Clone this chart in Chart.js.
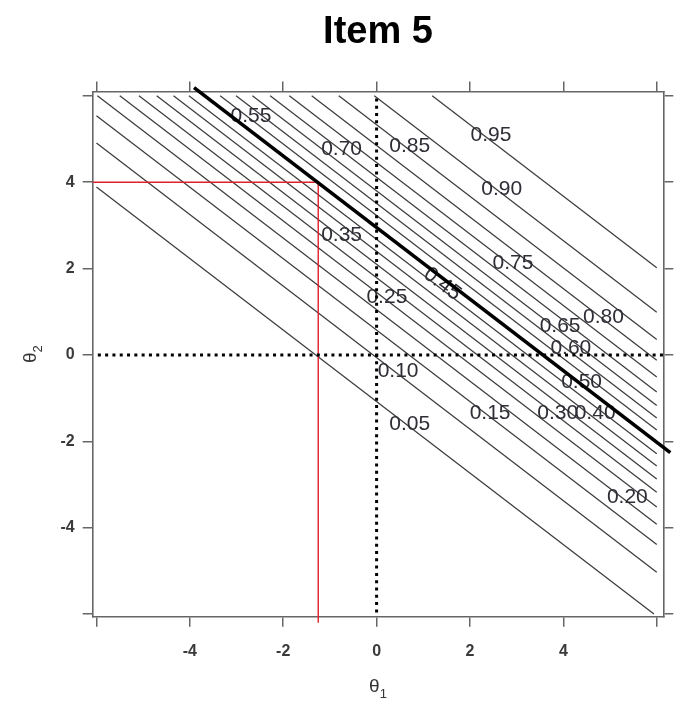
<!DOCTYPE html>
<html>
<head>
<meta charset="utf-8">
<script src="https://cdn.jsdelivr.net/npm/chart.js@4.4.1/dist/chart.umd.min.js"></script>
<style>
html,body{margin:0;padding:0;background:#ffffff;}
canvas{display:block;}
</style>
</head>
<body>
<canvas id="c" width="678" height="702"></canvas>
<script>
// ---- data ----
const levelLabels = ['0.05','0.10','0.15','0.20','0.25','0.30','0.35','0.40','0.45','0.50',
                     '0.55','0.60','0.65','0.70','0.75','0.80','0.85','0.90','0.95'];
// contour line end points (theta1, theta2)
const lineStartX = [-6, -6, -6, -5.98, -5.50, -5.09, -4.71, -4.35, -4.02, -3.68,
                    -3.35, -3.01, -2.66, -2.28, -1.87, -1.39, -0.81, -0.05, 1.19];
const lineStartY = [3.89, 4.91, 5.54, 6, 6, 6, 6, 6, 6, 6,
                    6, 6, 6, 6, 6, 6, 6, 6, 6];
const lineEndX   = [5.94, 6, 6, 6, 6, 6, 6, 6, 6, 6,
                    6, 6, 6, 6, 6, 6, 6, 6, 6];
const lineEndY   = [-6, -5.03, -4.39, -3.92, -3.52, -3.18, -2.87, -2.57, -2.29, -2.02,
                    -1.74, -1.46, -1.17, -0.86, -0.51, -0.12, 0.36, 0.99, 2.02];
// contour label positions (theta1, theta2)
const labelX = [0.71, 0.46, 2.43, 5.37, 0.22, 3.88, -0.75, 4.68, 1.42, 4.39,
                -2.69, 4.16, 3.93, -0.75, 2.92, 4.86, 0.71, 2.68, 2.45];
const labelY = [-1.59, -0.36, -1.32, -3.26, 1.37, -1.32, 2.79, -1.32, 1.66, -0.60,
                5.54, 0.18, 0.70, 4.78, 2.15, 0.89, 4.85, 3.85, 5.10];
const labelAngle = [0,0,0,0,0,0,0,0,37,0, 0,0,0,0,0,0,0,0,0];
// thick p = 0.5 line
const boundaryX = [-3.91, 6.29];
const boundaryY = [6.19, -2.26];
// red reference point
const refTheta1 = -1.25;
const refTheta2 = 4;
// axis ticks
const tickValues = [-6, -4, -2, 0, 2, 4, 6];
const shownTickLabels = ['', '-4', '-2', '0', '2', '4', ''];

const X_MIN = -6.08, X_MAX = 6.14, Y_MIN = -6.06, Y_MAX = 6.10;
const FONT = "'Liberation Sans', Arial, 'Noto Sans', 'DejaVu Sans', sans-serif";

const datasets = [];
datasets.push({
  label: 'p = 0.5', data: [{x: boundaryX[0], y: boundaryY[0]}, {x: boundaryX[1], y: boundaryY[1]}],
  showLine: true, borderColor: '#000000', borderWidth: 3.6, pointRadius: 0, clip: false
});
datasets.push({
  label: 'theta2 = 0', data: [{x: -5.97, y: 0}, {x: 6.22, y: 0}],
  showLine: true, borderColor: '#000000', borderWidth: 3, borderDash: [3, 4.3], pointRadius: 0, clip: false
});
datasets.push({
  label: 'theta1 = 0', data: [{x: 0, y: -5.96}, {x: 0, y: 6.03}],
  showLine: true, borderColor: '#000000', borderWidth: 3, borderDash: [3, 4.3], pointRadius: 0, clip: false
});
datasets.push({
  label: 'ref h', data: [{x: X_MIN, y: refTheta2}, {x: refTheta1, y: refTheta2}],
  showLine: true, borderColor: '#e0202a', borderWidth: 1.4, pointRadius: 0
});
datasets.push({
  label: 'ref v', data: [{x: refTheta1, y: refTheta2}, {x: refTheta1, y: -6.2}],
  showLine: true, borderColor: '#e0202a', borderWidth: 1.4, pointRadius: 0, clip: false
});
const firstContourIndex = datasets.length;
levelLabels.forEach((lab, i) => {
  datasets.push({
    label: lab,
    data: [{x: lineStartX[i], y: lineStartY[i]}, {x: lineEndX[i], y: lineEndY[i]}],
    showLine: true, borderColor: '#3c3c3c', borderWidth: 1.25, pointRadius: 0
  });
});

const labelPlugin = {
  id: 'contourLabels',
  afterDatasetDraw(chart, args) {
    if (args.index !== firstContourIndex) return;
    const ctx = chart.ctx;
    const xs = chart.scales.x, ys = chart.scales.y;
    ctx.save();
    ctx.font = '21px ' + FONT;
    ctx.fillStyle = '#2e2e36';
    ctx.textAlign = 'center';
    ctx.textBaseline = 'middle';
    levelLabels.forEach((lab, i) => {
      const px = xs.getPixelForValue(labelX[i]);
      const py = ys.getPixelForValue(labelY[i]);
      ctx.save();
      ctx.translate(px, py);
      ctx.rotate(labelAngle[i] * Math.PI / 180);
      ctx.fillText(lab, 0, 1);
      ctx.restore();
    });
    ctx.restore();
  }
};

// axis titles theta with subscript, drawn as text
const axisTitlePlugin = {
  id: 'axisTitles',
  afterDraw(chart) {
    const ctx = chart.ctx;
    const area = chart.chartArea;
    ctx.save();
    ctx.fillStyle = '#333333';
    ctx.textBaseline = 'alphabetic';
    // theta1 below x axis
    const cx = (area.left + area.right) / 2;
    ctx.font = '19px ' + FONT;
    const w1 = ctx.measureText('θ').width;
    ctx.font = '13px ' + FONT;
    const w2 = ctx.measureText('1').width;
    let x0 = cx - (w1 + w2) / 2;
    ctx.textAlign = 'left';
    ctx.font = '19px ' + FONT;
    ctx.fillText('θ', x0, 692);
    ctx.font = '13px ' + FONT;
    ctx.fillText('1', x0 + w1, 698);
    // theta2 rotated at left
    const cy = (area.top + area.bottom) / 2;
    ctx.translate(36, cy);
    ctx.rotate(-Math.PI / 2);
    ctx.font = '19px ' + FONT;
    ctx.fillText('θ', -(w1 + w2) / 2, 0);
    ctx.font = '13px ' + FONT;
    ctx.fillText('2', -(w1 + w2) / 2 + w1, 6);
    ctx.restore();
  }
};

const axisColor = '#666666';
function gridOpts() {
  return {drawOnChartArea: false, drawTicks: true, tickLength: 10, color: axisColor, lineWidth: 1.5};
}
function borderOpts() {
  return {display: true, color: axisColor, width: 1.6};
}

new Chart(document.getElementById('c'), {
  type: 'scatter',
  data: {datasets},
  plugins: [labelPlugin, axisTitlePlugin],
  options: {
    responsive: false,
    animation: false,
    layout: {padding: 0},
    plugins: {
      legend: {display: false},
      tooltip: {enabled: false},
      title: {
        display: true, text: 'Item 5', color: '#000000', fullSize: false,
        font: {family: FONT, size: 38, weight: 'bold', lineHeight: 1.2},
        padding: {top: 10, bottom: 5}
      }
    },
    scales: {
      x: {
        type: 'linear', position: 'bottom', min: X_MIN, max: X_MAX,
        afterBuildTicks: s => { s.ticks = tickValues.map(v => ({value: v})); },
        ticks: {
          callback: (v, i) => shownTickLabels[i],
          maxRotation: 0, autoSkip: false, padding: 15,
          color: '#3a3a3a', font: {family: FONT, size: 16, weight: 'bold'}
        },
        grid: gridOpts(), border: borderOpts(),
        afterFit: s => { s.height = 85.3; }
      },
      xTop: {
        type: 'linear', position: 'top', min: X_MIN, max: X_MAX,
        afterBuildTicks: s => { s.ticks = tickValues.map(v => ({value: v})); },
        ticks: {display: false},
        grid: gridOpts(), border: borderOpts(),
        afterFit: s => { s.height = 30.9; }
      },
      y: {
        type: 'linear', position: 'left', min: Y_MIN, max: Y_MAX,
        afterBuildTicks: s => { s.ticks = tickValues.map(v => ({value: v})); },
        ticks: {
          callback: (v, i) => shownTickLabels[i],
          autoSkip: false, padding: 8,
          color: '#3a3a3a', font: {family: FONT, size: 16, weight: 'bold'}
        },
        grid: gridOpts(), border: borderOpts(),
        afterFit: s => { s.width = 92.7; }
      },
      yRight: {
        type: 'linear', position: 'right', min: Y_MIN, max: Y_MAX,
        afterBuildTicks: s => { s.ticks = tickValues.map(v => ({value: v})); },
        ticks: {display: false},
        grid: gridOpts(), border: borderOpts(),
        afterFit: s => { s.width = 14.7; }
      }
    }
  }
});
</script>
</body>
</html>
